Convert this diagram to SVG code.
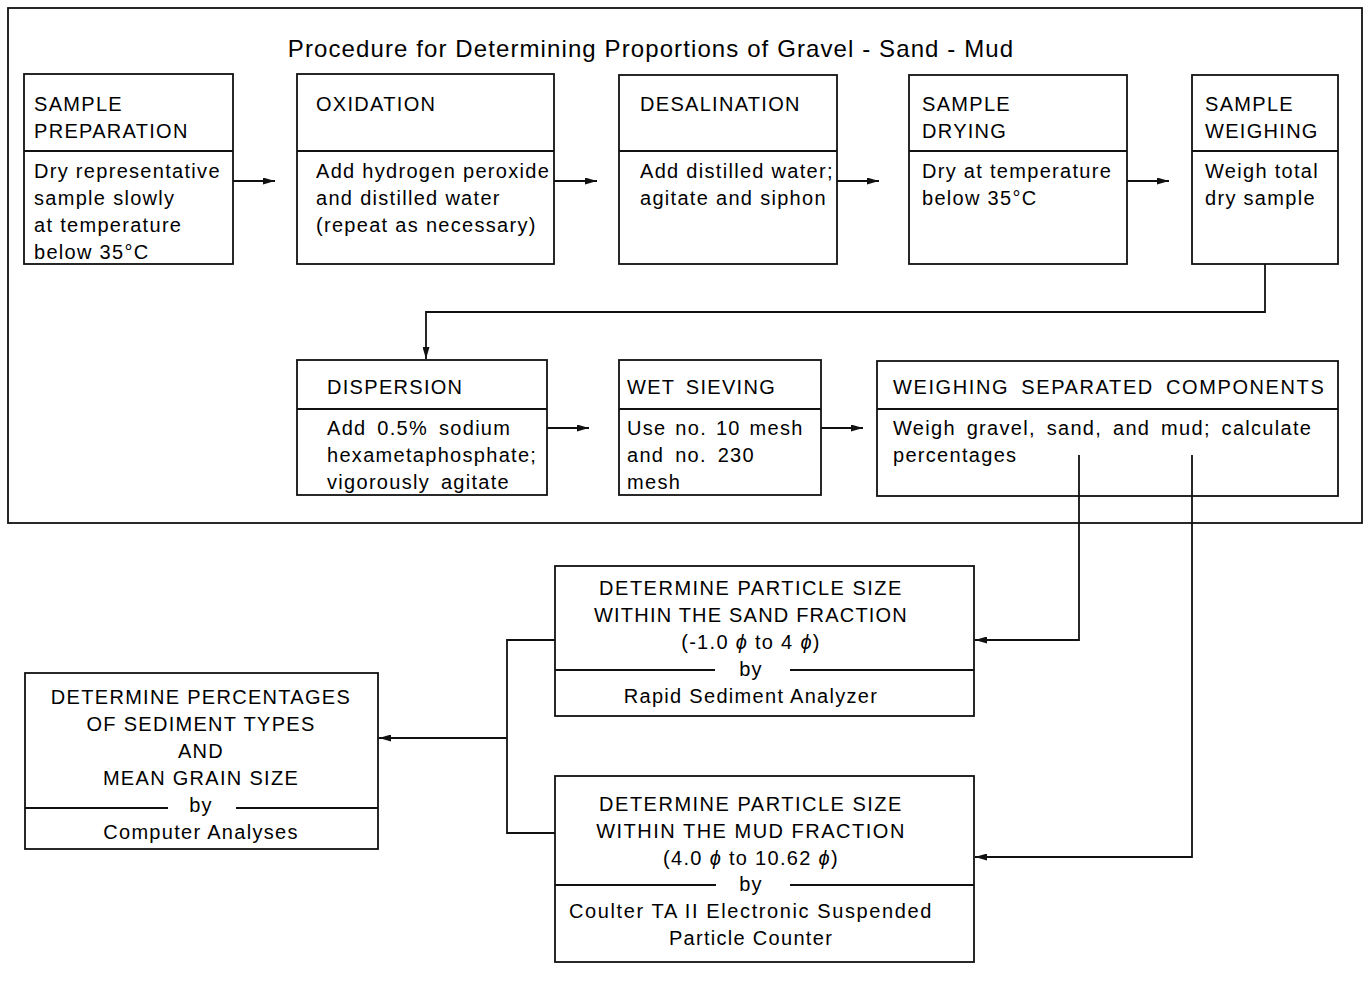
<svg xmlns="http://www.w3.org/2000/svg" width="1368" height="983" viewBox="0 0 1368 983">
<style>
text{font-family:"Liberation Sans",Arial,sans-serif;font-size:20px;fill:#000;letter-spacing:1.3px}
.c{text-anchor:middle}
.t{font-size:24px;letter-spacing:1.1px}
.w{word-spacing:4px}
rect,line,path{fill:none;stroke:#111;stroke-width:1.8}
.ph{font-style:italic}
</style>
<defs>
<marker id="ah" viewBox="0 0 12 7" refX="12" refY="3.5" markerWidth="12" markerHeight="7" markerUnits="userSpaceOnUse" orient="auto">
<path d="M0,0 L12,3.5 L0,7 Z" style="fill:#111;stroke:none"/>
</marker>
</defs>
<rect x="0" y="0" width="1368" height="983" style="fill:#fff;stroke:none"/>
<g id="frame">
<rect x="8" y="8" width="1354" height="515"/>
<text class="t c" x="651" y="57">Procedure for Determining Proportions of Gravel - Sand - Mud</text>
</g>
<g id="sample-preparation">
<rect x="24" y="74" width="209" height="190"/>
<line x1="24" y1="151" x2="233" y2="151"/>
<text x="34" y="111">SAMPLE</text>
<text x="34" y="138">PREPARATION</text>
<text x="34" y="178">Dry representative</text>
<text x="34" y="205">sample slowly</text>
<text x="34" y="232">at temperature</text>
<text x="34" y="259">below 35°C</text>
</g>
<g id="oxidation">
<rect x="297" y="74" width="257" height="190"/>
<line x1="297" y1="151" x2="554" y2="151"/>
<text x="316" y="111">OXIDATION</text>
<text x="316" y="178">Add hydrogen peroxide</text>
<text x="316" y="205">and distilled water</text>
<text x="316" y="232">(repeat as necessary)</text>
</g>
<g id="desalination">
<rect x="619" y="75" width="218" height="189"/>
<line x1="619" y1="151" x2="837" y2="151"/>
<text x="640" y="111">DESALINATION</text>
<text x="640" y="178">Add distilled water;</text>
<text x="640" y="205">agitate and siphon</text>
</g>
<g id="sample-drying">
<rect x="909" y="75" width="218" height="189"/>
<line x1="909" y1="151" x2="1127" y2="151"/>
<text x="922" y="111">SAMPLE</text>
<text x="922" y="138">DRYING</text>
<text x="922" y="178">Dry at temperature</text>
<text x="922" y="205">below 35°C</text>
</g>
<g id="sample-weighing">
<rect x="1192" y="75" width="146" height="189"/>
<line x1="1192" y1="151" x2="1338" y2="151"/>
<text x="1205" y="111">SAMPLE</text>
<text x="1205" y="138">WEIGHING</text>
<text x="1205" y="178">Weigh total</text>
<text x="1205" y="205">dry sample</text>
</g>
<g id="dispersion">
<rect x="297" y="360" width="250" height="135"/>
<line x1="297" y1="409" x2="547" y2="409"/>
<text x="327" y="394">DISPERSION</text>
<text class="w" x="327" y="435">Add 0.5% sodium</text>
<text x="327" y="462">hexametaphosphate;</text>
<text class="w" x="327" y="489">vigorously agitate</text>
</g>
<g id="wet-sieving">
<rect x="619" y="360" width="202" height="135"/>
<line x1="619" y1="409" x2="821" y2="409"/>
<text class="w" x="627" y="394">WET SIEVING</text>
<text x="627" y="435" style="word-spacing:2px">Use no. 10 mesh</text>
<text class="w" x="627" y="462">and no. 230</text>
<text x="627" y="489">mesh</text>
</g>
<g id="weighing-separated">
<rect x="877" y="361" width="461" height="135"/>
<line x1="877" y1="409" x2="1338" y2="409"/>
<text x="893" y="394" style="letter-spacing:1.6px;word-spacing:5px">WEIGHING SEPARATED COMPONENTS</text>
<text class="w" x="893" y="435">Weigh gravel, sand, and mud; calculate</text>
<text x="893" y="462">percentages</text>
</g>
<g id="sand-fraction">
<rect x="555" y="566" width="419" height="150"/>
<line x1="555" y1="670" x2="715" y2="670"/>
<line x1="790" y1="670" x2="974" y2="670"/>
<text class="c" x="751" y="595" style="letter-spacing:1.5px">DETERMINE PARTICLE SIZE</text>
<text class="c" x="751" y="622" style="letter-spacing:1.2px">WITHIN THE SAND FRACTION</text>
<text class="c" x="751" y="649">(-1.0 <tspan class="ph">ϕ</tspan> to 4 <tspan class="ph">ϕ</tspan>)</text>
<text class="c" x="751" y="676">by</text>
<text class="c" x="751" y="703">Rapid Sediment Analyzer</text>
</g>
<g id="mud-fraction">
<rect x="555" y="776" width="419" height="186"/>
<line x1="555" y1="885" x2="716" y2="885"/>
<line x1="790" y1="885" x2="974" y2="885"/>
<text class="c" x="751" y="811" style="letter-spacing:1.5px">DETERMINE PARTICLE SIZE</text>
<text class="c" x="751" y="838" style="letter-spacing:1.5px">WITHIN THE MUD FRACTION</text>
<text class="c" x="751" y="865">(4.0 <tspan class="ph">ϕ</tspan> to 10.62 <tspan class="ph">ϕ</tspan>)</text>
<text class="c" x="751" y="891">by</text>
<text class="c" x="751" y="918" style="letter-spacing:1.6px">Coulter TA II Electronic Suspended</text>
<text class="c" x="751" y="945">Particle Counter</text>
</g>
<g id="percentages">
<rect x="25" y="673" width="353" height="176"/>
<line x1="25" y1="808" x2="168" y2="808"/>
<line x1="236" y1="808" x2="378" y2="808"/>
<text class="c" x="201" y="704">DETERMINE PERCENTAGES</text>
<text class="c" x="201" y="731">OF SEDIMENT TYPES</text>
<text class="c" x="201" y="758">AND</text>
<text class="c" x="201" y="785">MEAN GRAIN SIZE</text>
<text class="c" x="201" y="812">by</text>
<text class="c" x="201" y="839">Computer Analyses</text>
</g>
<g id="connectors">
<line x1="233" y1="181" x2="275" y2="181" marker-end="url(#ah)"/>
<line x1="554" y1="181" x2="597" y2="181" marker-end="url(#ah)"/>
<line x1="837" y1="181" x2="879" y2="181" marker-end="url(#ah)"/>
<line x1="1127" y1="181" x2="1169" y2="181" marker-end="url(#ah)"/>
<path d="M1265,264 V312 H426 V359" marker-end="url(#ah)"/>
<line x1="547" y1="428" x2="589" y2="428" marker-end="url(#ah)"/>
<line x1="821" y1="428" x2="863" y2="428" marker-end="url(#ah)"/>
<path d="M1079,455 V640 H975" marker-end="url(#ah)"/>
<path d="M1192,455 V857 H975" marker-end="url(#ah)"/>
<path d="M555,640 H507 V833 H555"/>
<line x1="507" y1="738" x2="379" y2="738" marker-end="url(#ah)"/>
</g>
</svg>
